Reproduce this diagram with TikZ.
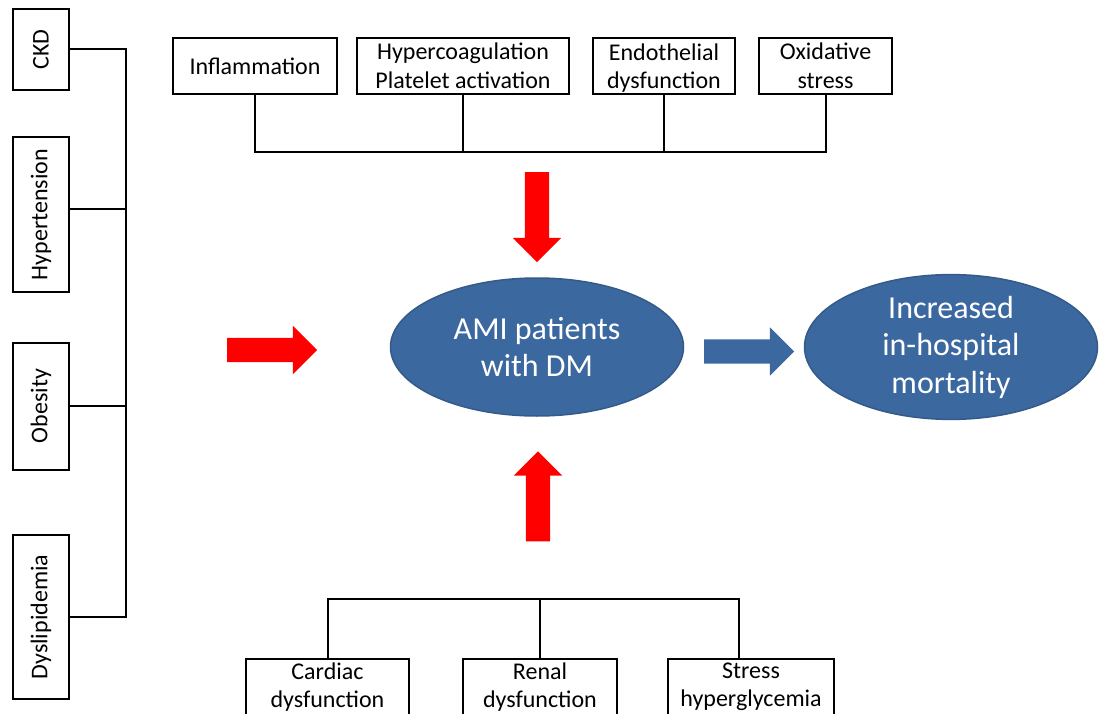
\documentclass[tikz,border=0pt]{standalone}
\usepackage{fontspec}
\setmainfont{Carlito}
\usepackage{graphicx}
\usetikzlibrary{calc,shapes.geometric,shapes.arrows}
\definecolor{ablue}{RGB}{60,104,160}
\definecolor{bblue}{RGB}{52,90,138}
\tikzset{%
  fbox/.style={draw,line width=2,inner sep=0,align=center,minimum height=56,font=\fontsize{24}{28.5}\selectfont},
  oval/.style={draw=bblue,line width=1.5,fill=ablue,shape=ellipse,inner sep=0,minimum width=293,minimum height=138,text=white,align=center,font=\fontsize{32}{37.5}\selectfont},
  fatarrow/.style={shape=single arrow,draw=none,inner sep=12,single arrow head extend=12,single arrow tip angle=90,minimum width=48,minimum height=90},
  link/.style={line width=2}
}

\begin{document}
\begin{tikzpicture}[x=1pt,y=-1pt]
    \useasboundingbox (0,0) rectangle (1100,714);
    \path
      (41,49.5) node[fbox,minimum width=56,minimum height=81] (ckd) {\rotatebox{90}{CKD}}
      (41,214.5) node[fbox,minimum width=56,minimum height=155] (hyp) {\rotatebox{90}{Hypertension}}
      (41,406) node[fbox,minimum width=56,minimum height=127] (obe) {\rotatebox{90}{Obesity}}
      (41,617) node[fbox,minimum width=56,minimum height=164] (dys) {\rotatebox{90}{Dyslipidemia}};
    \path
      (255,66) node[fbox,minimum width=164] (inf) {Inflammation}
      (463,66) node[fbox,minimum width=212] (hyc) {Hypercoagulation\\Platelet activation}
      (664,66) node[fbox,minimum width=142] (edf) {Endothelial\\\smash{dysfunction}}
      (825.5,66) node[fbox,minimum width=133] (oxi) {Oxidative\\stress};
    \path
      (327.5,687) node[fbox,minimum width=163] (car) {Cardiac\\dysfunction}
      (540,687) node[fbox,minimum width=154] (ren) {Renal\\dysfunction}
      (751,687) node[fbox,minimum width=166] (str) {Stress\\hyperglycemia};
    \path
      (537,347) node[oval] (ami) {AMI patients\\with DM}
      (951,347) node[oval] (mor) {Increased\\in-hospital\\mortality};
    \path
      (537,211) node[fatarrow,fill=red,rotate=-90] (dn) {}
      (538,502.5) node[fatarrow,fill=red,rotate=90] (up) {}
      (266,350) node[fatarrow,fill=red] (lt) {}
      (743,351.5) node[fatarrow,fill=ablue] (rt) {};
    \draw[link] (ckd.east) -- ++(56,0) coordinate (k) -- (k |- dys.east) -- (dys.east);
    \draw[link] ([yshift=5.5]hyp.east) -- ([yshift=5.5]hyp.east -| k);
    \draw[link] (obe.east) -- (obe.east -| k);
    \draw[link] (inf.south) -- ++(0,57) coordinate (t) -- (t -| oxi.south) -- (oxi.south);
    \draw[link] (hyc.south) -- (hyc.south |- t);
    \draw[link] (edf.south) -- (edf.south |- t);
    \draw[link] ([xshift=-12]str.north) coordinate (s) -- ++(0,-59) coordinate (b) -- (b -| car.north) -- (car.north);
    \draw[link] (ren.north) -- (ren.north |- b);
  \end{tikzpicture}
\end{document}
